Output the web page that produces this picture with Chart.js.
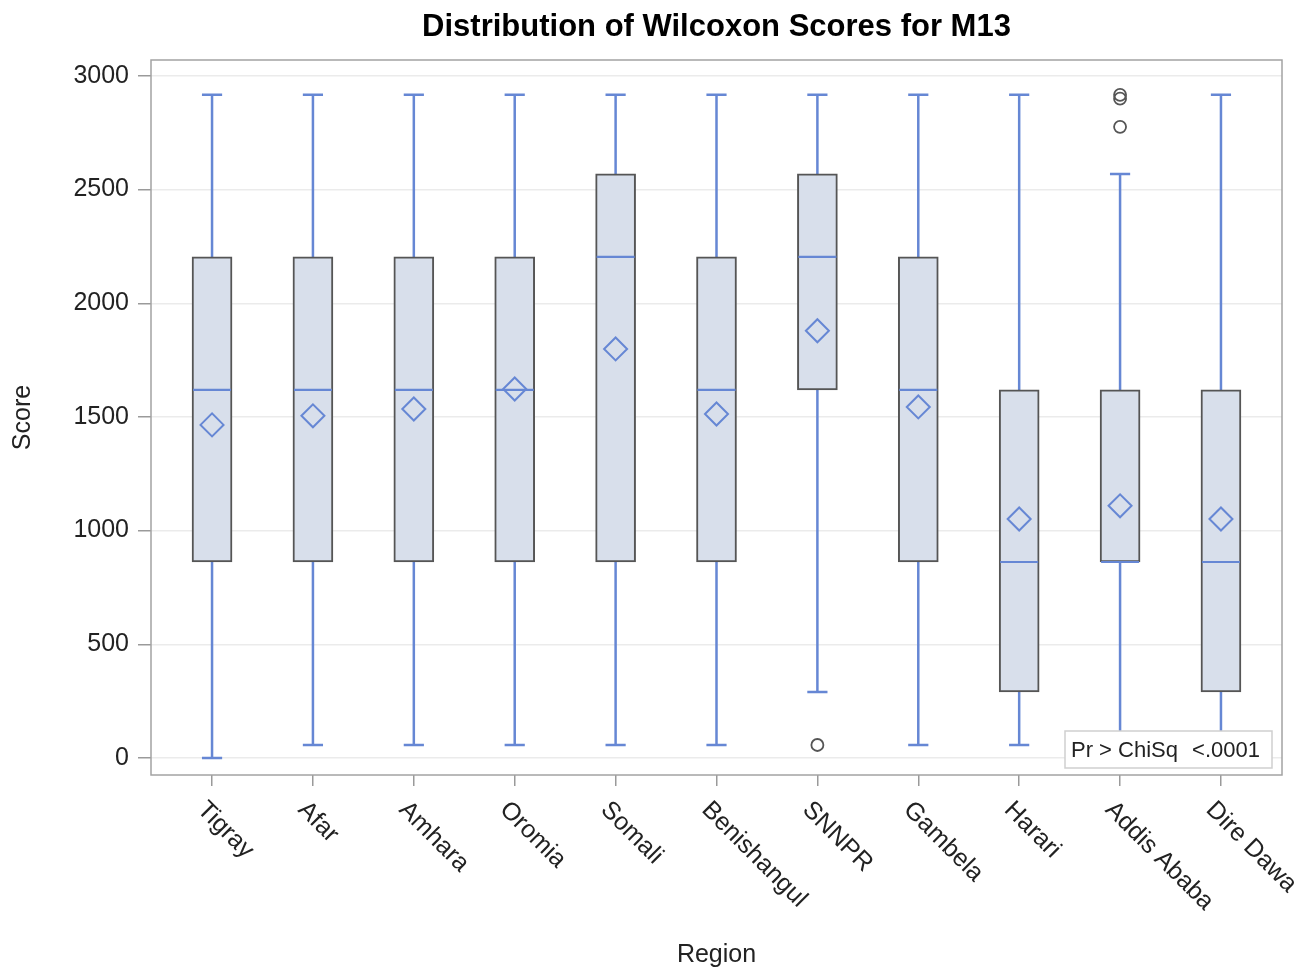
<!DOCTYPE html>
<html>
<head>
<meta charset="utf-8">
<script src="https://cdn.jsdelivr.net/npm/chart.js@4.4.1/dist/chart.umd.min.js"></script>
<style>
  html, body { margin: 0; padding: 0; background: #fff; }
  #wrap { width: 1299px; height: 969px; }
</style>
</head>
<body>
<div id="wrap"><canvas id="grafico" width="1299" height="969"></canvas></div>
<script>
// data
const categories = ['Tigray', 'Afar', 'Amhara', 'Oromia', 'Somali', 'Benishangul', 'SNNPR', 'Gambela', 'Harari', 'Addis Ababa', 'Dire Dawa']
const whiskerLow = [0, 57, 57, 57, 57, 57, 290, 57, 57, 57, 57]
const q1 = [862, 862, 862, 862, 862, 862, 1619, 862, 290, 862, 290]
const median = [1619, 1619, 1619, 1619, 2204, 1619, 2204, 1619, 862, 862, 862]
const q3 = [2204, 2204, 2204, 2204, 2569, 2204, 2569, 2204, 1619, 1619, 1619]
const whiskerHigh = [2917, 2917, 2917, 2917, 2917, 2917, 2917, 2917, 2917, 2569, 2917]
const means = [1465, 1505, 1535, 1623, 1799, 1513, 1879, 1544, 1051, 1109, 1051]
const outlierRegion = [6, 9, 9, 9]
const outlierScore = [57, 2917, 2900, 2776]
const yTicks = [0, 500, 1000, 1500, 2000, 2500, 3000]

const FONT = '"Liberation Sans", Arial, sans-serif'
const blue = '#6687d4'
const boxLine = '#555555'

const boxPlugin = {
  id: 'boxParts',
  beforeDatasetsDraw(chart) {
    const {ctx, chartArea: a} = chart
    ctx.save()
    ctx.strokeStyle = '#a3a3a3'
    ctx.lineWidth = 1.5
    ctx.strokeRect(a.left, a.top, a.right - a.left, a.bottom - a.top)
    ctx.restore()
  },
  beforeDatasetDraw(chart, args) {
    if (args.index !== 0) return
    const {ctx, scales: {x, y}} = chart
    ctx.save()
    ctx.strokeStyle = blue
    ctx.lineWidth = 2.5
    categories.forEach((c, i) => {
      const px = x.getPixelForValue(i)
      const l = x.getPixelForValue(i - 0.1), r = x.getPixelForValue(i + 0.1)
      const lo = y.getPixelForValue(whiskerLow[i]), hi = y.getPixelForValue(whiskerHigh[i])
      ctx.beginPath()
      ctx.moveTo(px, lo); ctx.lineTo(px, hi)
      ctx.moveTo(l, lo); ctx.lineTo(r, lo)
      ctx.moveTo(l, hi); ctx.lineTo(r, hi)
      ctx.stroke()
    })
    ctx.restore()
  },
  afterDatasetDraw(chart, args) {
    if (args.index !== 0) return
    const {ctx, scales: {y}} = chart
    const meta = chart.getDatasetMeta(0)
    ctx.save()
    ctx.strokeStyle = blue
    ctx.lineWidth = 2.2
    categories.forEach((c, i) => {
      const bar = meta.data[i]
      const half = bar.width / 2 - 1
      const py = y.getPixelForValue(median[i])
      ctx.beginPath()
      ctx.moveTo(bar.x - half, py); ctx.lineTo(bar.x + half, py)
      ctx.stroke()
    })
    ctx.restore()
  },
  afterDraw(chart) {
    const {ctx, chartArea: a, scales: {x}} = chart
    ctx.save()
    // rotated category labels
    ctx.font = '25px ' + FONT
    ctx.fillStyle = '#222'
    ctx.textAlign = 'left'
    ctx.textBaseline = 'middle'
    categories.forEach((c, i) => {
      ctx.save()
      ctx.translate(x.getPixelForValue(i) - 11, x.top + 31)
      ctx.rotate(Math.PI / 4)
      ctx.fillText(c, 0, 0)
      ctx.restore()
    })
    // inset with the test p-value
    const w = 207, h = 37
    const bx = a.right - 10 - w, by = a.bottom - 7 - h
    ctx.fillStyle = '#fff'
    ctx.fillRect(bx, by, w, h)
    ctx.strokeStyle = '#cfcfcf'
    ctx.lineWidth = 1.5
    ctx.strokeRect(bx, by, w, h)
    ctx.font = '22px ' + FONT
    ctx.fillStyle = '#222'
    ctx.textAlign = 'left'
    ctx.fillText('Pr > ChiSq', bx + 6, by + h / 2 + 1)
    ctx.textAlign = 'right'
    ctx.fillText('<.0001', bx + w - 12, by + h / 2 + 1)
    ctx.restore()
  }
}

new Chart(document.getElementById('grafico'), {
  type: 'bar',
  data: {
    datasets: [{
      type: 'bar',
      data: categories.map((c, i) => ({x: i, y: [q1[i], q3[i]]})),
      backgroundColor: '#d8dfeb',
      borderColor: boxLine,
      borderWidth: 2,
      borderSkipped: false,
      barThickness: 40,
      order: 3
    }, {
      type: 'scatter',
      data: categories.map((c, i) => ({x: i, y: means[i]})),
      pointStyle: 'rectRot',
      pointRadius: 11.5,
      pointBorderWidth: 2,
      borderColor: blue,
      backgroundColor: 'rgba(0,0,0,0)',
      order: 1
    }, {
      type: 'scatter',
      data: outlierRegion.map((r, k) => ({x: r, y: outlierScore[k]})),
      pointStyle: 'circle',
      pointRadius: 6,
      pointBorderWidth: 1.8,
      borderColor: '#555',
      backgroundColor: 'rgba(0,0,0,0)',
      order: 2
    }]
  },
  options: {
    responsive: false,
    animation: false,
    layout: {padding: {left: 0, right: 17, top: 0, bottom: 0}},
    plugins: {
      legend: {display: false},
      tooltip: {enabled: false},
      title: {
        display: true,
        text: 'Distribution of Wilcoxon Scores for M13',
        fullSize: false,
        color: '#000',
        font: {family: FONT, size: 31, weight: 'bold', lineHeight: 1.2},
        padding: {top: 9, bottom: 13.8}
      }
    },
    scales: {
      x: {
        type: 'linear',
        offset: false,
        min: -0.605,
        max: 10.605,
        afterBuildTicks: s => { s.ticks = categories.map((c, i) => ({value: i})) },
        afterFit: s => { s.height = 194 },
        ticks: {display: false},
        grid: {offset: false, drawOnChartArea: false, drawTicks: true, tickLength: 11, tickColor: '#9a9a9a', lineWidth: 1.5},
        border: {display: false},
        title: {display: true, text: 'Region', color: '#222', font: {family: FONT, size: 25, lineHeight: 1.1}, padding: {top: 0, bottom: 0}}
      },
      y: {
        type: 'linear',
        min: -75,
        max: 3070,
        afterBuildTicks: s => { s.ticks = yTicks.map(v => ({value: v})) },
        afterFit: s => { s.width = 151 },
        ticks: {color: '#222', font: {family: FONT, size: 25}, padding: 9, callback: v => String(v)},
        grid: {color: '#ebebeb', lineWidth: 1.5, tickColor: '#9a9a9a', tickLength: 13},
        border: {display: false},
        title: {display: true, text: 'Score', color: '#222', font: {family: FONT, size: 25, lineHeight: 1.2}, padding: {top: 8, bottom: 0}}
      }
    }
  },
  plugins: [boxPlugin]
})
</script>
</body>
</html>
